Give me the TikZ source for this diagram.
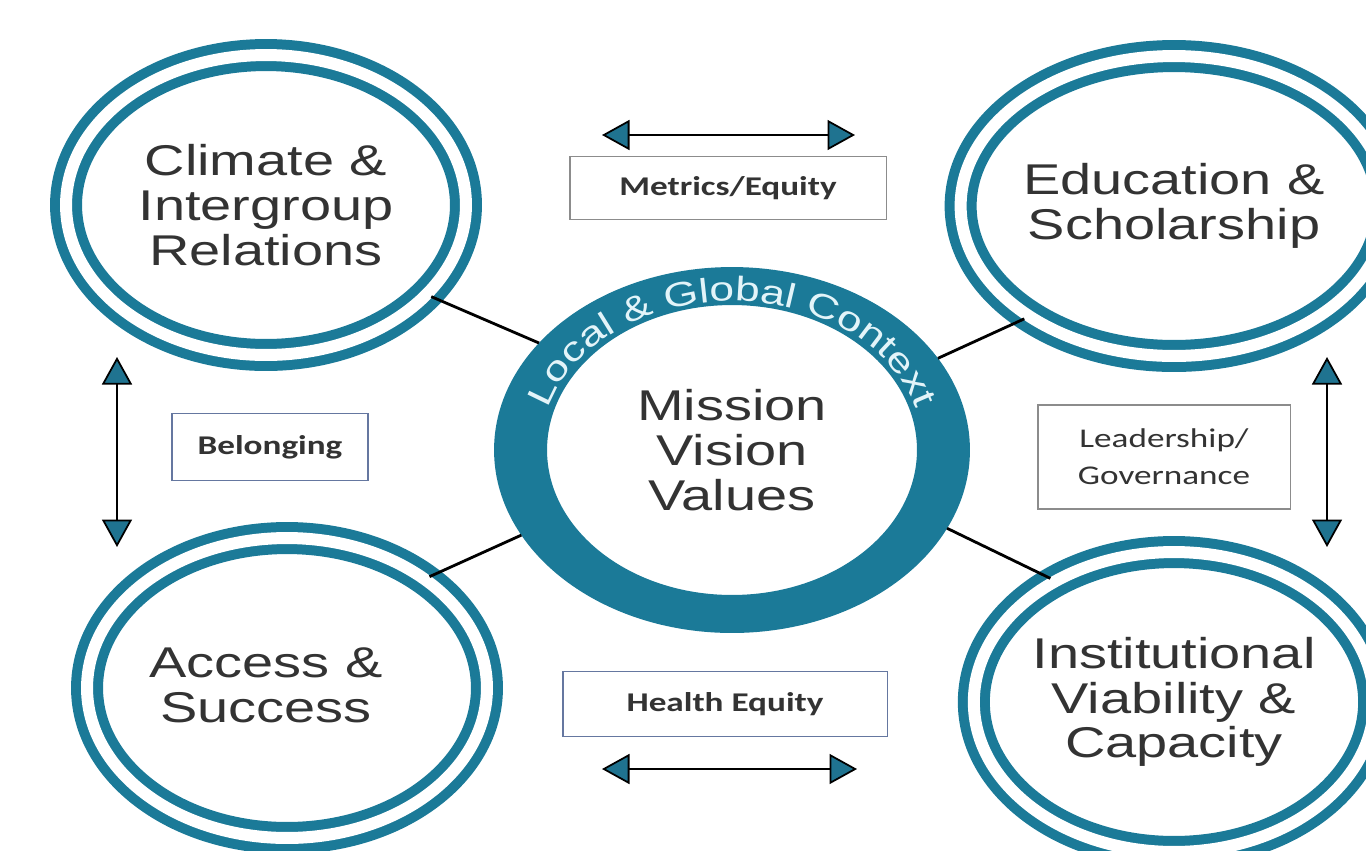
\documentclass[tikz,border=0pt]{standalone}
\usepackage{fontspec}
\setmainfont{Liberation Sans}
\newfontfamily\circfont[FakeStretch=1.3]{Liberation Sans}
\newfontfamily\boxfont[FakeStretch=1.3]{Carlito}
\usetikzlibrary{shapes.geometric,arrows.meta,decorations.text}
\definecolor{ringteal}{HTML}{1B7A98}
\definecolor{ringtext}{HTML}{E3F4F9}
\definecolor{textgray}{HTML}{333333}
\definecolor{tipteal}{HTML}{1F7390}
\definecolor{boxgray}{HTML}{8C8C8C}
\definecolor{boxblue}{HTML}{6577A0}
\begin{document}
\begin{tikzpicture}
        [
           x=0.02cm, y=-0.02cm,
           every node/.style={text=textgray},
           circtext/.style={align=center, font=\circfont\fontsize{24.5}{25.5}\selectfont}
        ]
        \tikzstyle{area}=[ellipse, draw=ringteal, double=white, line width=0.2cm, double distance=0.24cm, minimum width=8cm, minimum height=6cm, inner sep=0pt, circtext]
        \tikzstyle{theme}=[rectangle, fill=white, line width=1.1pt, inner sep=0pt, align=center, font=\boxfont\fontsize{15.4}{21}\selectfont]
        \tikzstyle{link}=[line width=1.6pt]
        \tikzstyle{swap}=[line width=1.2pt, {Triangle[width=0.6cm, length=0.55cm, fill=tipteal, line width=1pt]}-{Triangle[width=0.6cm, length=0.55cm, fill=tipteal, line width=1pt]}]
        \useasboundingbox (0,0) rectangle (1366,850);
        \clip (0,0) rectangle (1366,850);
        \node[ellipse, minimum width=9.52cm, minimum height=7.32cm, inner sep=0pt, outer sep=0pt, circtext] (mvv) at (732,450) {Mission\\Vision\\Values};
        \fill[ringteal, even odd rule] (mvv.center) ellipse [x radius=4.76cm, y radius=3.66cm] (mvv.center) ellipse [x radius=3.7cm, y radius=2.9cm];
        \path[decorate, decoration={text along path, text align=center, text={|\circfont\fontsize{19.4}{22}\selectfont\color{ringtext}|Local {\&} Global Context}}]
            (mvv.center) ++(175:3.84cm and 2.98cm) arc[start angle=175, end angle=5, x radius=3.84cm, y radius=2.98cm];
        \node[area] (climate) at (266,205) {Climate \&\\Intergroup\\Relations};
        \node[area] (education) at (1174,206) {Education \&\\Scholarship};
        \node[area] (access) at (287,688) {};
        \node[circtext] (accesstext) at (266,685) {Access \&\\Success};
        \node[area] (viability) at (1174,702) {Institutional\\Viability \&\\Capacity};
        \draw[link] (climate.-29) -- (mvv.151);
        \draw[link] (education.-143) -- (mvv.24);
        \draw[link] (access.38) -- (mvv.-158);
        \draw[link] (viability.135) -- (mvv.-20);
        \node[theme, draw=boxgray, minimum width=6.34cm, minimum height=1.26cm] (metrics) at (728,188) {\bfseries Metrics/Equity};
        \node[theme, draw=boxblue, minimum width=3.92cm, minimum height=1.34cm] (belonging) at (270,447) {\bfseries Belonging};
        \node[theme, draw=boxgray, minimum width=5.06cm, minimum height=2.08cm] (leadership) at (1164,457) {Leadership/\\Governance};
        \node[theme, draw=boxblue, minimum width=6.5cm, minimum height=1.3cm] (health) at (725,704) {\bfseries Health Equity};
        \coordinate (m1) at (602,135);
        \coordinate (m2) at (855,135);
        \coordinate (h1) at (602,769);
        \coordinate (h2) at (857,769);
        \coordinate (b1) at (117,357);
        \coordinate (b2) at (117,547);
        \coordinate (g1) at (1327,357);
        \coordinate (g2) at (1327,547);
        \draw[swap] (m1) -- (m2);
        \draw[swap] (h1) -- (h2);
        \draw[swap] (b1) -- (b2);
        \draw[swap] (g1) -- (g2);
    \end{tikzpicture}
\end{document}
